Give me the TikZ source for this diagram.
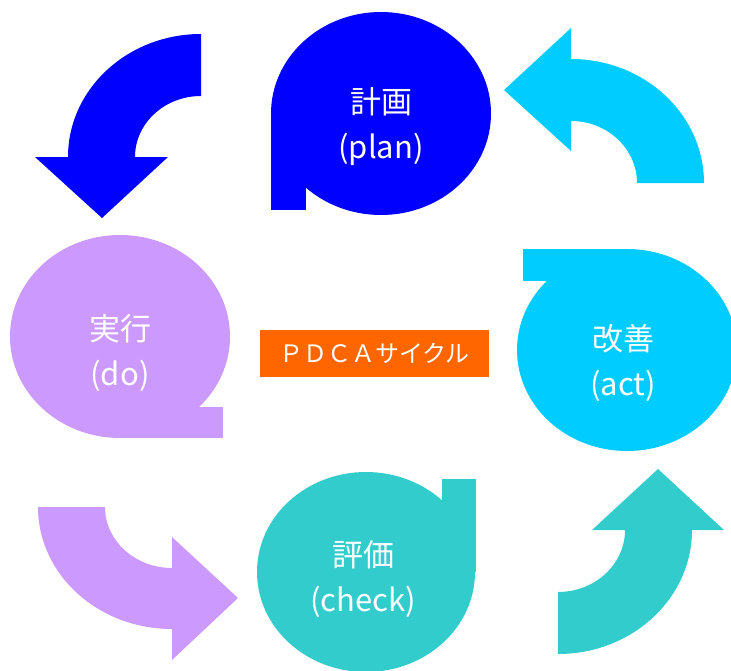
\documentclass[tikz,border=0pt]{standalone}
\usepackage{fontspec}
\setmainfont{Noto Sans CJK JP}
\definecolor{planc}{HTML}{0000FF}
\definecolor{doc}{HTML}{CC99FF}
\definecolor{checkc}{HTML}{33CCCC}
\definecolor{actc}{HTML}{00CCFF}
\definecolor{orangec}{HTML}{FF6600}
\tikzset{
  lbl/.style={text=white, align=center, font=\fontsize{31}{45}\selectfont, inner sep=0pt},
  title/.style={fill=orangec, text=white, font=\fontsize{24}{28}\selectfont, minimum width=229pt, minimum height=47pt, inner sep=0pt},
}
\begin{document}
\begin{tikzpicture}[x=1pt,y=-1pt]
\useasboundingbox (0,0) rectangle (731,670);
% ---- blobs ----
% plan
\fill[planc] (381,113.5) ellipse [x radius=110, y radius=101.5];
\fill[planc] (271,113.5) rectangle (306,210);
% do
\fill[doc] (120,336.5) ellipse [x radius=110, y radius=101.5];
\fill[doc] (120,407) rectangle (223,438);
% check
\fill[checkc] (366,572) ellipse [x radius=109, y radius=100];
\fill[checkc] (442,479) rectangle (475.5,572);
% act
\fill[actc] (627,350) ellipse [x radius=110, y radius=101];
\fill[actc] (523,249) rectangle (627,281);
% ---- arrows ----
% plan -> do (blue)
\fill[planc] (201,34) arc[start angle=270, end angle=180, x radius=133, y radius=123]
  -- (35,157) -- (102,218) -- (168,157) -- (135,157)
  arc[start angle=180, end angle=270, x radius=66, y radius=61] -- cycle;
% act -> plan (cyan)
\fill[actc] (504,90) -- (571,28) -- (571,59)
  arc[start angle=270, end angle=360, x radius=133, y radius=124]
  -- (637,183) arc[start angle=360, end angle=270, x radius=66, y radius=62]
  -- (571,151) -- cycle;
% do -> check (lavender)
\fill[doc] (38,507) arc[start angle=180, end angle=90, x radius=134, y radius=122]
  -- (172,660) -- (238,598) -- (172,537) -- (172,568)
  arc[start angle=90, end angle=180, x radius=67, y radius=61] -- cycle;
% check -> act (teal)
\fill[checkc] (558,654) arc[start angle=90, end angle=0, x radius=134, y radius=124]
  -- (724,530) -- (658,469) -- (592,530) -- (625,530)
  arc[start angle=0, end angle=90, x radius=67, y radius=62] -- cycle;
% ---- labels ----
\node[lbl] (plan) at (381,126.5) {計画\\(plan)};
\node[lbl] (do) at (120,353) {実行\\(do)};
\node[lbl] (check) at (363,579) {評価\\(check)};
\node[lbl] (act) at (623,363) {改善\\(act)};
\node[title] (pdca) at (374.5,353.5) {ＰＤＣＡサイクル};
\end{tikzpicture}
\end{document}
